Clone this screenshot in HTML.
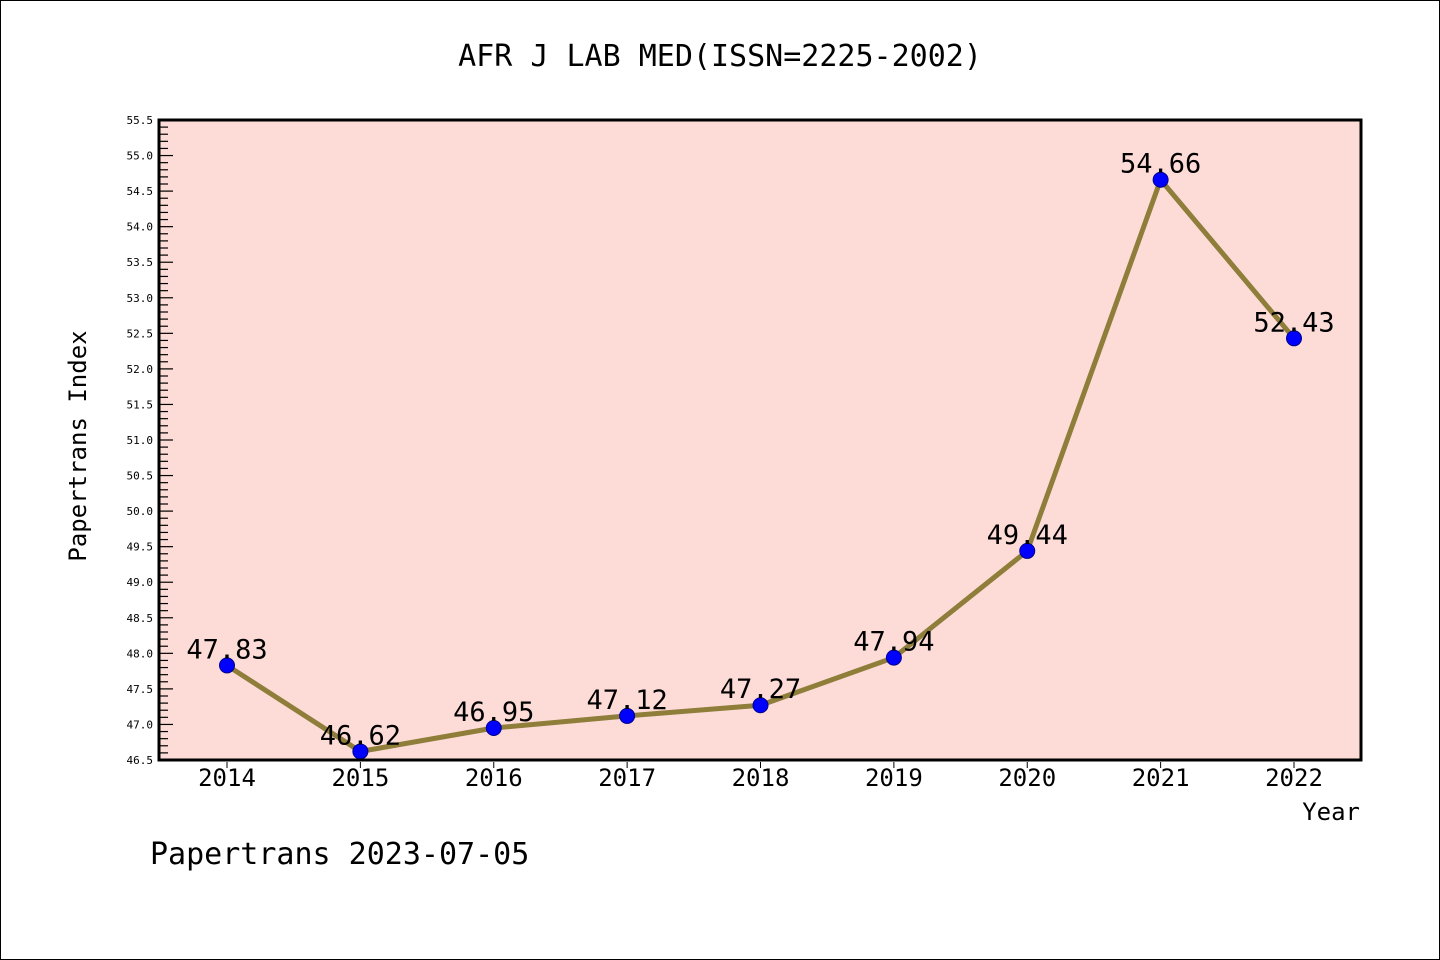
<!DOCTYPE html>
<html><head><meta charset="utf-8"><style>
body{margin:0;background:#fff}
svg{display:block}
text{font-family:"DejaVu Sans Mono","Liberation Mono",monospace}
</style></head><body>
<svg id="c" width="1440" height="960" viewBox="0 0 1440 960">
<rect x="0.5" y="0.5" width="1439" height="959" fill="#fff" stroke="#000"/>
<text x="720" y="66" font-size="30" text-anchor="middle">AFR J LAB MED(ISSN=2225-2002)</text>
<rect x="159" y="120" width="1202" height="640" fill="#fddcd8"/>
<g id="yaxis"></g>
<g id="xaxis"></g>
<g id="series"></g>
<rect x="159" y="120" width="1202" height="640" fill="none" stroke="#000" stroke-width="3"/>
<text x="86" y="446" font-size="24" text-anchor="middle" transform="rotate(-90 86 446)">Papertrans Index</text>
<text x="1360" y="820" font-size="24" text-anchor="end">Year</text>
<text x="150" y="864" font-size="30">Papertrans 2023-07-05</text>
</svg>
<script>
const years=["2014","2015","2016","2017","2018","2019","2020","2021","2022"];
const values=[47.83,46.62,46.95,47.12,47.27,47.94,49.44,54.66,52.43];
const valueLabels=["47.83","46.62","46.95","47.12","47.27","47.94","49.44","54.66","52.43"];
const yMin=46.5,yMax=55.5;
const NS="http://www.w3.org/2000/svg";
function X(i){return 227+i*(1294-227)/(years.length-1);}
function Y(v){return 760-(v-yMin)/(yMax-yMin)*640;}
function mk(t,a,p){const e=document.createElementNS(NS,t);for(const k in a)e.setAttribute(k,a[k]);p.appendChild(e);return e;}
const ya=document.getElementById('yaxis');
for(let k=0;k<=Math.round((yMax-yMin)*10);k++){
 const v=yMin+k*0.1,y=Y(v),maj=k%5===0;
 const l=mk('line',{x1:159,x2:159+(maj?14:9),y1:y,y2:y,stroke:'#000','stroke-width':1.2},ya);
 
 
 if(maj){const t=mk('text',{x:153,y:y+4,'font-size':11,'text-anchor':'end'},ya);t.textContent=v.toFixed(1);
 
 }
}
const xa=document.getElementById('xaxis');
years.forEach((yr,i)=>{
 const l=mk('line',{x1:X(i),x2:X(i),y1:762,y2:768,stroke:'#000','stroke-width':1},xa);
 
 
 const t=mk('text',{x:X(i),y:786,'font-size':24,'text-anchor':'middle'},xa);t.textContent=yr;
 
 
});
const s=document.getElementById('series');
const pl=mk('polyline',{points:values.map((v,i)=>X(i)+','+Y(v)).join(' '),fill:'none',stroke:'#8f7d3a','stroke-width':5,'stroke-linejoin':'round'},s);


values.forEach((v,i)=>{
 const c=mk('circle',{cx:X(i),cy:Y(v),r:7.5,fill:'#0000ff',stroke:'#00008b','stroke-width':1},s);
 
 
 const t=mk('text',{x:X(i),y:Y(v)-7,'font-size':27,'text-anchor':'middle'},s);t.textContent=valueLabels[i];
 
 
});
</script>
</body></html>
